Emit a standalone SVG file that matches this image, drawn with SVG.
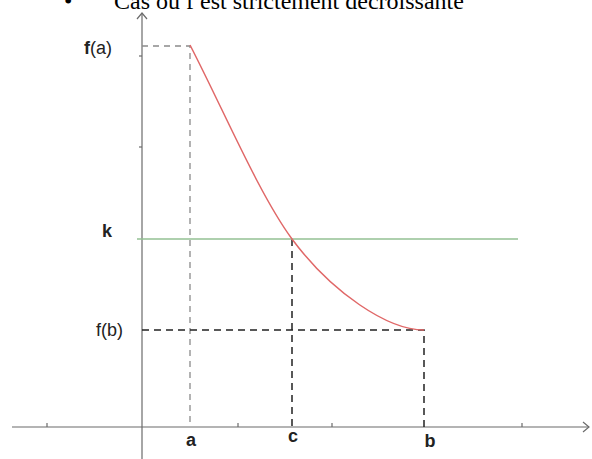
<svg xmlns="http://www.w3.org/2000/svg" width="592" height="459" viewBox="0 0 592 459">
<style>
.axis{stroke:#6b6b6b;stroke-width:1.2;fill:none}
.tick{stroke:#6b6b6b;stroke-width:1.2}
.dg{stroke:#8a8a8a;stroke-width:1.3;stroke-dasharray:6 5;fill:none}
.dk{stroke:#222;stroke-width:1.5;stroke-dasharray:7 5;fill:none}
.lbl{font-family:"Liberation Sans",Arial,sans-serif;font-size:18px;fill:#222}
.b{font-weight:bold}
.title{font-family:"Liberation Serif","Times New Roman",serif;font-size:24px;fill:#000}
</style>
<rect width="592" height="459" fill="#fff"/>
<text class="title" x="64" y="9">•</text>
<text class="title" x="114" y="9">Cas où f est strictement décroissante</text>
<g id="axes">
<line class="axis" x1="12" y1="427" x2="589" y2="427"/>
<polyline class="axis" points="583,422 589,427 583,432"/>
<line class="axis" x1="142" y1="459" x2="142" y2="13"/>
<polyline class="axis" points="137,19 142,13 147,19"/>
<line class="tick" x1="47" y1="427" x2="47" y2="423"/>
<line class="tick" x1="238" y1="427" x2="238" y2="423"/>
<line class="tick" x1="332" y1="427" x2="332" y2="423"/>
<line class="tick" x1="522" y1="427" x2="522" y2="423"/>
<line class="tick" x1="142" y1="56" x2="139" y2="56"/>
<line class="tick" x1="142" y1="147" x2="139" y2="147"/>
</g>
<g id="connectors">
<polyline class="dg" points="142,46 190,46 190,427"/>
<line class="dk" x1="292" y1="239" x2="292" y2="427"/>
<polyline class="dk" points="142,330 424,330 424,427"/>
</g>
<g id="level-k">
<line x1="137" y1="239" x2="518" y2="239" stroke="#93c193" stroke-width="1.5"/>
</g>
<g id="curve">
<path d="M190,45 C224,111 259,194 292,239 C332,293 388,330 424,330" fill="none" stroke="#e06868" stroke-width="1.5"/>
</g>
<g id="labels">
<text class="lbl" x="84" y="54"><tspan class="b">f</tspan>(a)</text>
<text class="lbl b" x="102" y="237">k</text>
<text class="lbl" x="96" y="336">f(b)</text>
<text class="lbl b" x="191" y="446" text-anchor="middle">a</text>
<text class="lbl b" x="293" y="442" text-anchor="middle">c</text>
<text class="lbl b" x="430" y="447" text-anchor="middle">b</text>
</g>
</svg>
